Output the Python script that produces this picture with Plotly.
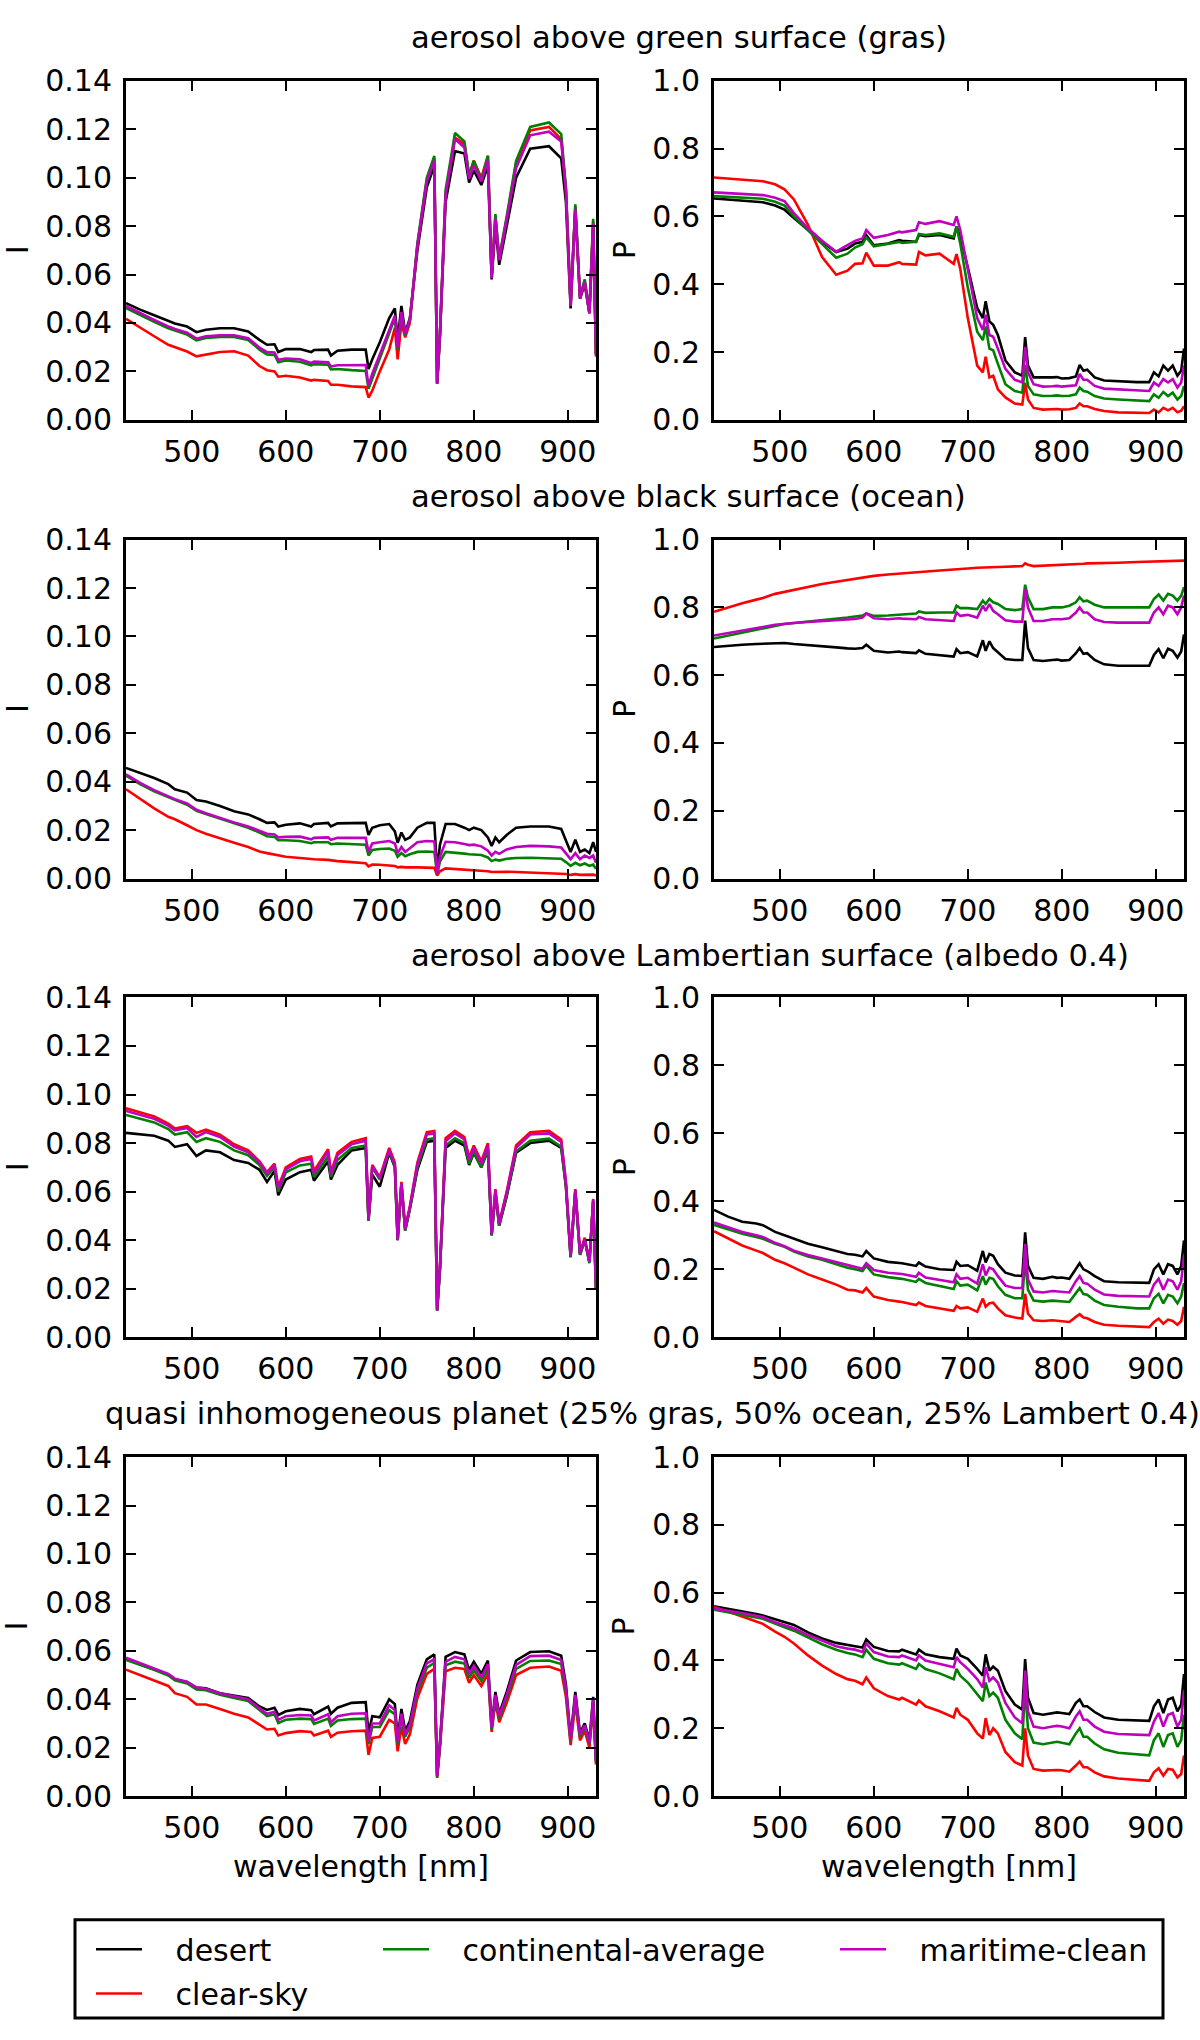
import plotly.graph_objects as go
from plotly.subplots import make_subplots

# wavelength grid [nm], shared by all spectra
WAVELENGTH = [430, 445, 460, 475, 482, 495, 505, 515, 530, 545,
              560, 572, 580, 588, 592, 600, 615, 627, 630, 645,
              648, 655, 670, 685, 688, 692, 700, 710, 716, 719,
              723, 727, 732, 740, 750, 758, 761, 764, 770, 780,
              790, 795, 800, 808, 815, 819, 823, 827, 835, 845,
              860, 880, 893, 898, 903, 908, 913, 918, 923, 927,
              930]

AEROSOLS = ["desert", "clear-sky", "continental-average", "maritime-clean"]

TITLES = [
    "aerosol above green surface (gras)",
    "aerosol above black surface (ocean)",
    "aerosol above Lambertian surface (albedo 0.4)",
    "quasi inhomogeneous planet (25% gras, 50% ocean, 25% Lambert 0.4)",
]

# ---- green surface (gras) ----
GRAS_I_DESERT = [.0482, .0455, .0432, .0410, .0398, .0385, .0362, .0372, .0378, .0378,
                 .0365, .0330, .0310, .0312, .0280, .0292, .0292, .0280, .0288, .0290,
                 .0265, .0285, .0290, .0290, .0210, .0250, .0320, .0420, .0460, .0330,
                 .0470, .0360, .0420, .0700, .0960, .1050, .0150, .0350, .0900, .1110,
                 .1100, .0980, .1030, .0970, .1050, .0580, .0800, .0640, .0800, .1000,
                 .1120, .1130, .1080, .0900, .0460, .0870, .0500, .0560, .0440, .0800,
                 .0270]
GRAS_I_CLEAR = [.0417, .0380, .0345, .0310, .0300, .0282, .0262, .0270, .0280, .0283,
                .0265, .0222, .0205, .0200, .0178, .0182, .0175, .0162, .0165, .0160,
                .0145, .0145, .0138, .0135, .0092, .0120, .0200, .0290, .0380, .0250,
                .0400, .0340, .0400, .0720, .0990, .1080, .0150, .0350, .0930, .1165,
                .1140, .1010, .1070, .1000, .1090, .0590, .0840, .0660, .0830, .1060,
                .1195, .1210, .1160, .0950, .0480, .0880, .0510, .0570, .0440, .0820,
                .0270]
GRAS_I_CONT = [.0462, .0432, .0405, .0378, .0368, .0352, .0328, .0338, .0342, .0342,
               .0330, .0290, .0270, .0268, .0238, .0245, .0240, .0225, .0230, .0228,
               .0208, .0210, .0205, .0202, .0128, .0170, .0250, .0360, .0420, .0290,
               .0440, .0350, .0410, .0730, .1000, .1090, .0150, .0360, .0950, .1185,
               .1150, .1010, .1070, .0990, .1090, .0590, .0850, .0670, .0840, .1070,
               .1210, .1228, .1180, .0960, .0480, .0890, .0510, .0580, .0450, .0830,
               .0270]
GRAS_I_MAR = [.0470, .0440, .0413, .0386, .0375, .0360, .0335, .0345, .0349, .0349,
              .0337, .0298, .0280, .0278, .0248, .0253, .0250, .0235, .0240, .0238,
              .0220, .0225, .0226, .0226, .0140, .0190, .0270, .0370, .0430, .0300,
              .0445, .0355, .0415, .0720, .0985, .1070, .0148, .0355, .0930, .1160,
              .1125, .0995, .1050, .0985, .1070, .0585, .0830, .0660, .0830, .1040,
              .1175, .1190, .1150, .0950, .0470, .0870, .0500, .0570, .0440, .0810,
              .0260]

GRAS_P_DESERT = [.653, .650, .647, .644, .642, .632, .620, .595, .560, .525,
                 .495, .505, .520, .525, .545, .515, .520, .530, .528, .525,
                 .545, .542, .545, .535, .570, .540, .450, .330, .300, .350,
                 .290, .280, .250, .175, .140, .130, .244, .160, .125, .124,
                 .125, .126, .122, .123, .128, .162, .145, .148, .125, .116,
                 .113, .111, .111, .140, .128, .160, .145, .160, .130, .145,
                 .210]
GRAS_P_CLEAR = [.715, .712, .709, .706, .704, .695, .680, .650, .575, .480,
                .428, .440, .460, .462, .493, .455, .455, .465, .460, .458,
                .495, .485, .490, .460, .489, .445, .300, .160, .140, .186,
                .125, .130, .090, .066, .048, .045, .109, .060, .035, .030,
                .031, .032, .030, .031, .035, .048, .040, .040, .032, .026,
                .022, .020, .020, .030, .022, .035, .028, .035, .022, .027,
                .040]
GRAS_P_CONT = [.660, .658, .656, .654, .652, .643, .632, .600, .560, .520,
               .478, .490, .508, .518, .538, .512, .518, .525, .522, .525,
               .548, .545, .550, .540, .570, .520, .390, .260, .235, .275,
               .210, .205, .165, .105, .085, .080, .162, .100, .075, .070,
               .071, .072, .070, .071, .075, .095, .085, .083, .070, .063,
               .060, .056, .055, .075, .065, .082, .070, .080, .060, .070,
               .100]
GRAS_P_MAR = [.671, .669, .667, .665, .663, .655, .645, .610, .565, .528,
              .496, .515, .528, .535, .560, .537, .545, .555, .553, .560,
              .583, .578, .586, .575, .600, .560, .440, .300, .265, .310,
              .250, .245, .210, .150, .118, .110, .215, .140, .105, .098,
              .099, .100, .098, .099, .102, .135, .118, .118, .100, .092,
              .090, .086, .085, .110, .100, .120, .110, .120, .095, .110,
              .160]

# ---- black surface (ocean) ----
OCEAN_I_DESERT = [.0457, .0437, .0415, .0390, .0369, .0355, .0324, .0318, .0300, .0278,
                  .0265, .0245, .0230, .0232, .0215, .0222, .0228, .0215, .0225, .0230,
                  .0215, .0228, .0230, .0230, .0180, .0210, .0220, .0225, .0195, .0148,
                  .0190, .0160, .0170, .0210, .0230, .0230, .0030, .0140, .0225, .0225,
                  .0210, .0200, .0210, .0200, .0170, .0135, .0170, .0150, .0180, .0210,
                  .0215, .0215, .0205, .0160, .0110, .0160, .0110, .0120, .0105, .0150,
                  .0110]
OCEAN_I_CLEAR = [.0369, .0330, .0290, .0255, .0245, .0220, .0200, .0185, .0165, .0148,
                 .0130, .0112, .0105, .0100, .0095, .0090, .0085, .0080, .0080, .0077,
                 .0075, .0072, .0068, .0063, .0050, .0058, .0057, .0055, .0052, .0046,
                 .0048, .0046, .0047, .0046, .0045, .0044, .0012, .0030, .0042, .0040,
                 .0037, .0036, .0035, .0033, .0030, .0027, .0028, .0028, .0028, .0027,
                 .0025, .0022, .0021, .0019, .0015, .0018, .0015, .0016, .0014, .0016,
                 .0013]
OCEAN_I_CONT = [.0425, .0390, .0360, .0335, .0325, .0305, .0280, .0267, .0248, .0228,
                .0210, .0190, .0175, .0172, .0158, .0158, .0155, .0146, .0150, .0150,
                .0142, .0145, .0142, .0140, .0095, .0118, .0122, .0124, .0115, .0090,
                .0105, .0092, .0100, .0110, .0112, .0110, .0018, .0070, .0110, .0108,
                .0103, .0100, .0100, .0097, .0087, .0072, .0078, .0074, .0082, .0085,
                .0086, .0085, .0082, .0068, .0052, .0065, .0055, .0062, .0052, .0058,
                .0040]
OCEAN_I_MAR = [.0430, .0395, .0365, .0340, .0328, .0310, .0284, .0270, .0250, .0232,
               .0215, .0195, .0185, .0182, .0170, .0172, .0173, .0162, .0168, .0170,
               .0160, .0168, .0168, .0168, .0110, .0145, .0150, .0155, .0145, .0105,
               .0130, .0110, .0125, .0150, .0155, .0153, .0020, .0090, .0152, .0150,
               .0143, .0138, .0140, .0133, .0115, .0095, .0110, .0102, .0120, .0130,
               .0135, .0133, .0128, .0105, .0080, .0105, .0080, .0095, .0085, .0095,
               .0065]

OCEAN_P_DESERT = [.683, .687, .690, .692, .693, .695, .695, .692, .688, .685,
                  .682, .679, .678, .680, .690, .672, .667, .670, .668, .665,
                  .673, .663, .658, .655, .677, .665, .668, .655, .703, .672,
                  .700, .680, .668, .648, .645, .645, .761, .680, .645, .642,
                  .645, .646, .643, .645, .665, .680, .663, .665, .645, .632,
                  .628, .627, .628, .660, .677, .650, .678, .672, .652, .670,
                  .720]
OCEAN_P_CLEAR = [.787, .800, .812, .823, .828, .840, .846, .852, .862, .869,
                 .876, .881, .885, .888, .889, .893, .897, .900, .900, .904,
                 .905, .906, .909, .912, .913, .914, .915, .917, .918, .918,
                 .919, .919, .920, .920, .921, .922, .930, .926, .922, .923,
                 .924, .925, .926, .927, .928, .929, .929, .930, .930, .931,
                 .932, .934, .935, .936, .936, .936, .937, .937, .937, .938,
                 .938]
OCEAN_P_CONT = [.708, .717, .725, .733, .738, .747, .751, .754, .758, .762,
                .765, .770, .773, .776, .782, .775, .776, .778, .779, .782,
                .788, .784, .785, .785, .805, .798, .798, .795, .820, .810,
                .825, .815, .810, .795, .792, .795, .867, .830, .795, .795,
                .800, .800, .800, .805, .815, .830, .818, .820, .808, .800,
                .800, .800, .800, .825, .838, .820, .840, .835, .820, .835,
                .860]
OCEAN_P_MAR = [.717, .724, .730, .737, .742, .749, .752, .754, .757, .760,
               .762, .764, .766, .770, .782, .768, .765, .768, .767, .765,
               .772, .765, .762, .760, .785, .775, .778, .770, .805, .790,
               .810, .790, .780, .762, .758, .758, .855, .800, .760, .760,
               .765, .765, .765, .768, .785, .800, .785, .785, .765, .757,
               .755, .755, .755, .785, .800, .780, .805, .800, .780, .800,
               .835]

# ---- Lambertian surface (albedo 0.4) ----
LAMBERT_I_DESERT = [.0842, .0835, .0830, .0810, .0784, .0795, .0747, .0770, .0762, .0730,
                    .0718, .0690, .0640, .0685, .0585, .0650, .0680, .0690, .0645, .0725,
                    .0650, .0710, .0770, .0780, .0480, .0670, .0620, .0760, .0700, .0400,
                    .0630, .0440, .0530, .0690, .0805, .0810, .0110, .0280, .0780, .0810,
                    .0790, .0710, .0760, .0700, .0770, .0420, .0590, .0460, .0580, .0760,
                    .0800, .0810, .0780, .0620, .0330, .0600, .0340, .0400, .0310, .0560,
                    .0200]
LAMBERT_I_CLEAR = [.0943, .0925, .0910, .0880, .0860, .0870, .0842, .0855, .0835, .0795,
                   .0770, .0725, .0680, .0715, .0620, .0700, .0735, .0745, .0685, .0775,
                   .0680, .0760, .0805, .0820, .0490, .0710, .0660, .0780, .0720, .0410,
                   .0640, .0450, .0540, .0720, .0845, .0850, .0115, .0290, .0820, .0850,
                   .0825, .0740, .0790, .0725, .0800, .0430, .0610, .0470, .0600, .0790,
                   .0845, .0850, .0815, .0640, .0340, .0610, .0350, .0410, .0310, .0570,
                   .0200]
LAMBERT_I_CONT = [.0916, .0900, .0885, .0858, .0835, .0845, .0805, .0820, .0805, .0770,
                  .0750, .0710, .0665, .0700, .0600, .0680, .0708, .0715, .0660, .0745,
                  .0660, .0730, .0780, .0790, .0480, .0700, .0650, .0765, .0705, .0400,
                  .0630, .0440, .0530, .0700, .0815, .0820, .0110, .0285, .0790, .0820,
                  .0800, .0715, .0765, .0700, .0775, .0420, .0595, .0460, .0585, .0765,
                  .0810, .0818, .0785, .0625, .0330, .0600, .0340, .0400, .0305, .0560,
                  .0200]
LAMBERT_I_MAR = [.0932, .0915, .0900, .0872, .0852, .0862, .0825, .0845, .0825, .0785,
                 .0762, .0720, .0675, .0710, .0612, .0692, .0725, .0735, .0675, .0765,
                 .0672, .0750, .0795, .0810, .0485, .0705, .0655, .0772, .0712, .0405,
                 .0635, .0445, .0535, .0712, .0835, .0840, .0112, .0288, .0808, .0840,
                 .0815, .0730, .0780, .0715, .0790, .0425, .0605, .0465, .0595, .0780,
                 .0835, .0840, .0805, .0635, .0335, .0605, .0345, .0405, .0310, .0565,
                 .0200]

LAMBERT_P_DESERT = [.375, .355, .340, .335, .330, .310, .300, .290, .275, .265,
                    .255, .245, .243, .238, .254, .232, .222, .218, .218, .210,
                    .220, .208, .200, .198, .222, .210, .212, .196, .254, .220,
                    .245, .240, .215, .190, .182, .180, .309, .210, .175, .172,
                    .178, .175, .176, .172, .200, .218, .200, .195, .180, .165,
                    .162, .160, .160, .200, .215, .185, .215, .210, .185, .210,
                    .285]
LAMBERT_P_CLEAR = [.312, .290, .270, .255, .248, .228, .218, .205, .185, .170,
                   .155, .140, .138, .132, .145, .120, .110, .105, .104, .095,
                   .102, .092, .085, .078, .092, .085, .088, .075, .114, .090,
                   .100, .102, .085, .065, .058, .055, .128, .070, .050, .048,
                   .050, .049, .048, .045, .060, .068, .058, .056, .045, .037,
                   .034, .032, .030, .045, .055, .040, .052, .048, .037, .048,
                   .090]
LAMBERT_P_CONT = [.331, .318, .305, .295, .290, .275, .266, .252, .238, .228,
                  .215, .205, .200, .195, .210, .185, .177, .172, .172, .163,
                  .172, .160, .152, .142, .165, .152, .155, .138, .180, .155,
                  .175, .172, .150, .125, .115, .115, .230, .140, .108, .105,
                  .108, .107, .107, .104, .130, .145, .127, .125, .108, .095,
                  .090, .085, .085, .115, .128, .100, .125, .120, .100, .120,
                  .160]
LAMBERT_P_MAR = [.338, .323, .310, .300, .295, .278, .268, .255, .242, .232,
                 .222, .212, .208, .202, .218, .198, .190, .186, .186, .178,
                 .190, .176, .168, .162, .185, .172, .175, .158, .215, .182,
                 .205, .200, .180, .152, .145, .145, .275, .170, .135, .132,
                 .136, .135, .135, .132, .165, .180, .160, .158, .140, .126,
                 .122, .120, .120, .155, .172, .140, .170, .165, .140, .165,
                 .240]

# ---- quasi inhomogeneous planet ----
MIX_I_DESERT = [.0565, .0545, .0525, .0502, .0482, .0470, .0448, .0445, .0425, .0415,
                .0405, .0370, .0356, .0365, .0335, .0350, .0360, .0355, .0338, .0370,
                .0340, .0365, .0385, .0388, .0260, .0330, .0325, .0400, .0380, .0240,
                .0360, .0270, .0310, .0460, .0565, .0585, .0085, .0220, .0575, .0595,
                .0585, .0520, .0555, .0505, .0560, .0290, .0430, .0340, .0430, .0560,
                .0595, .0598, .0580, .0460, .0240, .0430, .0260, .0300, .0230, .0410,
                .0150]
MIX_I_CLEAR = [.0522, .0500, .0478, .0455, .0425, .0410, .0378, .0378, .0360, .0340,
               .0325, .0295, .0275, .0278, .0250, .0260, .0268, .0265, .0250, .0270,
               .0245, .0262, .0268, .0270, .0170, .0240, .0245, .0315, .0300, .0185,
               .0285, .0215, .0255, .0405, .0505, .0525, .0075, .0200, .0515, .0530,
               .0525, .0468, .0500, .0455, .0505, .0265, .0390, .0305, .0385, .0500,
               .0530, .0535, .0518, .0410, .0210, .0385, .0230, .0270, .0200, .0370,
               .0130]
MIX_I_CONT = [.0563, .0543, .0522, .0498, .0478, .0465, .0440, .0437, .0418, .0405,
              .0393, .0355, .0330, .0338, .0302, .0315, .0320, .0318, .0298, .0320,
              .0290, .0312, .0318, .0320, .0215, .0285, .0285, .0355, .0338, .0215,
              .0325, .0245, .0285, .0430, .0530, .0550, .0080, .0210, .0540, .0555,
              .0548, .0488, .0520, .0475, .0525, .0275, .0405, .0320, .0405, .0525,
              .0558, .0560, .0545, .0432, .0225, .0405, .0245, .0285, .0215, .0385,
              .0140]
MIX_I_MAR = [.0571, .0550, .0528, .0505, .0485, .0472, .0448, .0443, .0425, .0412,
             .0400, .0362, .0340, .0348, .0315, .0330, .0335, .0333, .0312, .0338,
             .0305, .0330, .0340, .0342, .0225, .0300, .0300, .0375, .0355, .0225,
             .0340, .0255, .0295, .0445, .0548, .0565, .0082, .0215, .0555, .0575,
             .0565, .0505, .0538, .0490, .0545, .0282, .0418, .0330, .0418, .0542,
             .0578, .0580, .0562, .0445, .0232, .0418, .0252, .0292, .0222, .0398,
             .0145]

MIX_P_DESERT = [.560, .553, .545, .537, .533, .522, .515, .505, .483, .465,
                .452, .445, .442, .438, .462, .440, .428, .427, .432, .418,
                .432, .418, .410, .405, .435, .415, .405, .375, .355, .418,
                .370, .382, .370, .310, .270, .255, .404, .290, .245, .240,
                .245, .247, .245, .242, .275, .285, .265, .265, .248, .232,
                .225, .222, .222, .265, .285, .245, .285, .290, .250, .270,
                .360]
MIX_P_CLEAR = [.558, .545, .530, .515, .508, .485, .470, .450, .415, .385,
               .360, .345, .340, .330, .350, .318, .295, .285, .290, .270,
               .282, .265, .250, .232, .260, .240, .225, .185, .170, .230,
               .180, .200, .185, .130, .100, .090, .200, .120, .080, .075,
               .077, .077, .076, .072, .090, .102, .085, .085, .070, .058,
               .052, .048, .045, .070, .082, .060, .080, .078, .055, .065,
               .120]
MIX_P_CONT = [.550, .543, .536, .527, .523, .508, .498, .488, .468, .448,
              .432, .422, .418, .410, .432, .405, .392, .388, .392, .375,
              .390, .375, .362, .345, .375, .355, .335, .300, .280, .335,
              .295, .305, .290, .225, .185, .168, .320, .200, .158, .153,
              .158, .160, .157, .153, .185, .200, .175, .175, .155, .138,
              .128, .122, .120, .165, .185, .145, .180, .185, .145, .165,
              .240]
MIX_P_MAR = [.553, .547, .540, .532, .528, .513, .505, .495, .475, .458,
             .442, .435, .432, .425, .450, .425, .412, .410, .415, .400,
             .415, .400, .390, .380, .410, .395, .375, .345, .320, .380,
             .340, .350, .335, .275, .232, .215, .370, .250, .205, .200,
             .205, .207, .205, .200, .235, .250, .225, .225, .205, .190,
             .183, .180, .180, .220, .245, .205, .240, .245, .205, .225,
             .310]

# one row per surface: (I column, P column), series in the order of AEROSOLS
ROWS = [
    ([GRAS_I_DESERT, GRAS_I_CLEAR, GRAS_I_CONT, GRAS_I_MAR],
     [GRAS_P_DESERT, GRAS_P_CLEAR, GRAS_P_CONT, GRAS_P_MAR]),
    ([OCEAN_I_DESERT, OCEAN_I_CLEAR, OCEAN_I_CONT, OCEAN_I_MAR],
     [OCEAN_P_DESERT, OCEAN_P_CLEAR, OCEAN_P_CONT, OCEAN_P_MAR]),
    ([LAMBERT_I_DESERT, LAMBERT_I_CLEAR, LAMBERT_I_CONT, LAMBERT_I_MAR],
     [LAMBERT_P_DESERT, LAMBERT_P_CLEAR, LAMBERT_P_CONT, LAMBERT_P_MAR]),
    ([MIX_I_DESERT, MIX_I_CLEAR, MIX_I_CONT, MIX_I_MAR],
     [MIX_P_DESERT, MIX_P_CLEAR, MIX_P_CONT, MIX_P_MAR]),
]

COLORS = {"desert": "#000000", "clear-sky": "#ff0000",
          "continental-average": "#008000", "maritime-clean": "#bf00bf"}
# matplotlib-like 3 column legend: one plotly legend per slot
LEGEND_ID = {"desert": "legend", "continental-average": "legend2",
             "maritime-clean": "legend3", "clear-sky": "legend4"}

W, H = 1200, 2040
FONT = "DejaVu Sans"
NBSP = "\u00a0"


def px_x(x):
    return x / W


def px_y(y):
    return 1 - y / H


# axes boxes in pixels
COL_X = [(126, 596), (714, 1184)]
ROW_Y = [(64, 409), (531, 876), (997, 1343), (1465, 1810)]

fig = make_subplots(rows=4, cols=2)

for r, (i_data, p_data) in enumerate(ROWS):
    for c, data in enumerate([i_data, p_data]):
        for name, values in zip(AEROSOLS, data):
            fig.add_trace(go.Scatter(
                x=WAVELENGTH, y=values, mode="lines", name=NBSP * 3 + name,
                line=dict(color=COLORS[name], width=2.6),
                showlegend=(r == 0 and c == 0),
                legend=LEGEND_ID[name],
            ), row=r + 1, col=c + 1)

        x0, x1 = COL_X[c]
        y0, y1 = ROW_Y[r]
        axis_common = dict(showline=True, linecolor="black", linewidth=3,
                           mirror="allticks", ticks="inside", ticklen=10,
                           tickwidth=1.5, tickcolor="black", showgrid=False,
                           zeroline=False,
                           tickfont=dict(family=FONT, size=30, color="black"))
        fig.update_xaxes(domain=[px_x(x0), px_x(x1)], range=[430, 930],
                         tickvals=[500, 600, 700, 800, 900],
                         ticklabelstandoff=3, **axis_common,
                         row=r + 1, col=c + 1)
        if c == 0:
            fig.update_yaxes(domain=[px_y(y1), px_y(y0)], range=[0, 0.14],
                             dtick=0.02, tickformat=".2f",
                             ticklabelstandoff=5, **axis_common,
                             row=r + 1, col=c + 1)
        else:
            fig.update_yaxes(domain=[px_y(y1), px_y(y0)], range=[0, 1.0],
                             dtick=0.2, tickformat=".1f",
                             ticklabelstandoff=5, **axis_common,
                             row=r + 1, col=c + 1)

annotations = []
for r, title in enumerate(TITLES):
    annotations.append(dict(
        text=title, x=px_x(409 if r < 3 else 103), y=px_y(20 + 467 * r),
        xref="paper", yref="paper", xanchor="left", yanchor="middle",
        showarrow=False, font=dict(family=FONT, size=30.6, color="black")))
    yc = (ROW_Y[r][0] + ROW_Y[r][1]) / 2
    for label, xc in [("I", 17), ("P", 624)]:
        annotations.append(dict(
            text=label, x=px_x(xc), y=px_y(yc), xref="paper", yref="paper",
            textangle=-90, xanchor="center", yanchor="middle", showarrow=False,
            font=dict(family=FONT, size=30, color="black")))
for xc in [361, 949]:
    annotations.append(dict(
        text="wavelength [nm]", x=px_x(xc), y=px_y(1882), xref="paper",
        yref="paper", xanchor="center", yanchor="middle", showarrow=False,
        font=dict(family=FONT, size=30, color="black")))

legend_style = dict(font=dict(family=FONT, size=30, color="black"),
                    bgcolor="rgba(0,0,0,0)", borderwidth=0, itemwidth=46,
                    xanchor="left", yanchor="middle")

fig.update_layout(
    width=W, height=H,
    margin=dict(l=0, r=0, t=0, b=0),
    paper_bgcolor="white", plot_bgcolor="white",
    hovermode=False,
    annotations=annotations,
    legend=dict(x=px_x(91), y=px_y(1966), **legend_style),
    legend2=dict(x=px_x(378), y=px_y(1966), **legend_style),
    legend3=dict(x=px_x(835), y=px_y(1966), **legend_style),
    legend4=dict(x=px_x(91), y=px_y(2011), **legend_style),
    shapes=[dict(type="rect", xref="paper", yref="paper",
                 x0=px_x(75), x1=px_x(1163), y0=px_y(2036), y1=px_y(1936),
                 line=dict(color="black", width=3))],
)

# page margin off so the 1200x2040 figure fills the window exactly
fig.write_html("out.html", config={"displayModeBar": False},
               post_script="document.body.style.margin = '0px';")
